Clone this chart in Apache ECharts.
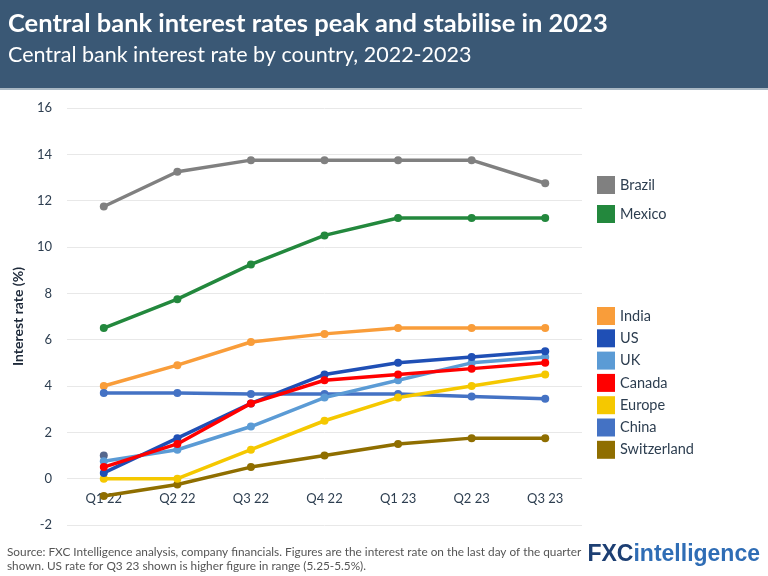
<!DOCTYPE html>
<html>
<head>
<meta charset="utf-8">
<script src="https://cdn.jsdelivr.net/npm/echarts@6/dist/echarts.min.js"></script>
<style>
  html, body { margin: 0; padding: 0; background: #fff; }
  #chart { width: 768px; height: 576px; }
</style>
</head>
<body>
<div id="chart"></div>
<script>
// quarters on the x axis
const quarters = ['Q1 22', 'Q2 22', 'Q3 22', 'Q4 22', 'Q1 23', 'Q2 23', 'Q3 23'];

// interest rate (%) per country
const brazil      = [11.75, 13.25, 13.75, 13.75, 13.75, 13.75, 12.75];
const mexico      = [6.5, 7.75, 9.25, 10.5, 11.25, 11.25, 11.25];
const india       = [4.0, 4.9, 5.9, 6.25, 6.5, 6.5, 6.5];
const us          = [0.25, 1.75, 3.25, 4.5, 5.0, 5.25, 5.5];
const uk          = [0.75, 1.25, 2.25, 3.5, 4.25, 5.0, 5.25];
const canada      = [0.5, 1.5, 3.25, 4.25, 4.5, 4.75, 5.0];
const europe      = [0, 0, 1.25, 2.5, 3.5, 4.0, 4.5];
const china       = [3.7, 3.7, 3.65, 3.65, 3.65, 3.55, 3.45];
const switzerland = [-0.75, -0.25, 0.5, 1.0, 1.5, 1.75, 1.75];
// stray marker drawn at Q1 22
const extraDot    = [1.0, null, null, null, null, null, null];

const yTicks = [-2, 0, 2, 4, 6, 8, 10, 12, 14, 16];

const textColor = '#2d3e50';

function lineSeries(name, data, color, z) {
    return {
        name: name,
        type: 'line',
        data: data,
        symbol: 'circle',
        symbolSize: 8,
        z: z,
        lineStyle: { width: 3.5, color: color },
        itemStyle: { color: color }
    };
}

const chart = echarts.init(document.getElementById('chart'));

// plot height 417px over 18 units -> the zero line sits 2 units above the bottom
const zeroOffset = -(576 - 108 - 51) / 18 * 2;

const option = {
    animation: false,
    textStyle: { fontFamily: 'Lato' },
    graphic: [
        { type: 'rect', shape: { x: 0, y: 0, width: 768, height: 88 }, style: { fill: '#3a5875' } },
        { type: 'rect', shape: { x: 0, y: 88, width: 768, height: 2 }, style: { fill: '#a9b8c4' } },
        { type: 'text', left: 8, top: 11, style: { text: 'Central bank interest rates peak and stabilise in 2023', fill: '#fff', font: 'bold 25.5px Lato' } },
        { type: 'text', left: 8, top: 44, style: { text: 'Central bank interest rate by country, 2022-2023', fill: '#fff', font: '21.5px Lato' } },
        { type: 'text', left: 7, top: 545, style: { text: 'Source: FXC Intelligence analysis, company financials. Figures are the interest rate on the last day of the quarter\nshown. US rate for Q3 23 shown is higher figure in range (5.25-5.5%).', fill: '#555', font: '11.8px Lato', lineHeight: 14 } },
        { type: 'text', right: 8, top: 543, style: {
            text: '{a|FXC}{b|intelligence}',
            rich: {
                a: { fill: '#1d3f73', font: 'bold 23px "Liberation Sans Narrow", "Liberation Sans"' },
                b: { fill: '#2f6db5', font: 'bold 23px "Liberation Sans Narrow", "Liberation Sans"' }
            }
        } }
    ],
    legend: [
        {
            data: ['Brazil', 'Mexico'],
            orient: 'vertical', left: 592, top: 171,
            icon: 'rect', itemWidth: 18, itemHeight: 18, itemGap: 11,
            textStyle: { color: textColor, fontSize: 14.5, fontFamily: 'Lato' }
        },
        {
            data: ['India', 'US', 'UK', 'Canada', 'Europe', 'China', 'Switzerland'],
            orient: 'vertical', left: 592, top: 302,
            icon: 'rect', itemWidth: 18, itemHeight: 18, itemGap: 4.3,
            textStyle: { color: textColor, fontSize: 14.5, fontFamily: 'Lato' }
        }
    ],
    grid: { left: 67, right: 186, top: 108, bottom: 51 },
    xAxis: {
        type: 'category',
        data: quarters,
        boundaryGap: true,
        offset: zeroOffset,
        axisLine: { show: false, onZero: false },
        axisTick: { show: false },
        axisLabel: { color: textColor, fontSize: 13, margin: 14, fontFamily: 'Lato' }
    },
    yAxis: {
        type: 'value',
        min: yTicks[0],
        max: yTicks[yTicks.length - 1],
        interval: 2,
        name: 'Interest rate (%)',
        nameLocation: 'middle',
        nameGap: 42,
        nameTextStyle: { color: '#1e2a3a', fontSize: 14, fontWeight: 'bold', fontFamily: 'Lato' },
        axisLine: { show: false },
        axisTick: { show: false },
        axisLabel: { color: textColor, fontSize: 13, margin: 15, fontFamily: 'Lato' },
        splitLine: { lineStyle: { color: '#e8e8e8', width: 1 } }
    },
    series: [
        lineSeries('Brazil', brazil, '#808080', 2),
        lineSeries('Mexico', mexico, '#23883d', 2),
        lineSeries('India', india, '#f99d3a', 2),
        lineSeries('Switzerland', switzerland, '#8f6e00', 2),
        lineSeries('China', china, '#4472c4', 3),
        lineSeries('Europe', europe, '#f5c800', 3),
        {
            name: 'extra', type: 'scatter', data: extraDot, symbolSize: 8, z: 3,
            itemStyle: { color: '#2a4170' }
        },
        lineSeries('UK', uk, '#5b9bd5', 4),
        lineSeries('US', us, '#1f4fb5', 5),
        lineSeries('Canada', canada, '#ff0000', 6)
    ]
};

chart.setOption(option);
</script>
</body>
</html>
